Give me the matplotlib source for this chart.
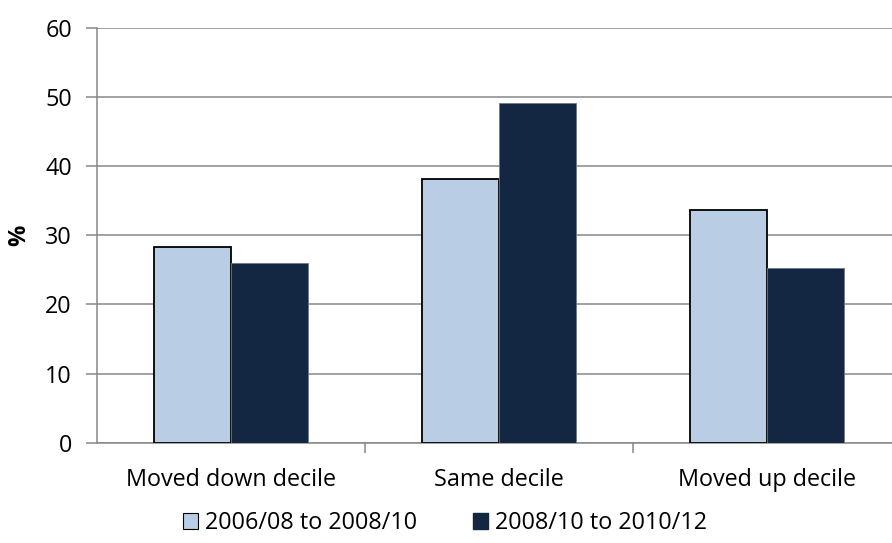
import numpy as np
import matplotlib.pyplot as plt
from matplotlib.patches import Patch

# data
categories = ["Moved down decile", "Same decile", "Moved up decile"]
series_names = ["2006/08 to 2008/10", "2008/10 to 2010/12"]
period1 = [28.3, 38.1, 33.6]
period2 = [26.0, 49.1, 25.2]

light = "#B9CDE5"
dark = "#132742"
grid_col = "#878787"

plt.rcParams["font.family"] = ["Open Sans", "DejaVu Sans"]

W, H = 892, 543
fig = plt.figure(figsize=(W / 100, H / 100), dpi=100)
ax = fig.add_axes([97 / W, 1 - 442.7 / H, (892 - 97) / W, (442.7 - 27.7) / H])

x = np.arange(len(categories))
bw = 0.287
ax.bar(x - bw / 2, period1, bw, color=light, edgecolor="black", linewidth=1.3, zorder=3)
ax.bar(x + bw / 2, period2, bw, color=dark, edgecolor="#6b7a8c", linewidth=0.6, zorder=3)

ax.set_ylim(0, 60)
ax.set_xlim(-0.5, (892 - 97) / 268 - 0.5)
ax.set_yticks(range(0, 61, 10))
ax.yaxis.grid(True, color=grid_col, linewidth=1.1, zorder=0)
ax.set_axisbelow(True)

for s in ["top", "right"]:
    ax.spines[s].set_visible(False)
ax.spines["left"].set_color(grid_col)
ax.spines["bottom"].set_color(grid_col)
ax.spines["left"].set_linewidth(1.1)
ax.spines["bottom"].set_linewidth(1.1)

fs = 16.8
ax.tick_params(axis="y", length=8, width=1.1, color=grid_col, labelsize=fs, pad=10)
ax.set_xticks(x)
ax.set_xticklabels(categories, fontsize=fs)
ax.tick_params(axis="x", length=0, pad=18)
ax.set_xticks([0.5, 1.5], minor=True)
ax.tick_params(axis="x", which="minor", length=7, width=1.1, color=grid_col)

ax.set_ylabel("%", fontsize=17, fontweight="bold", labelpad=10)

handles = [Patch(facecolor=light, edgecolor="black", linewidth=0.8),
           Patch(facecolor=dark, edgecolor=dark)]
fig.legend(handles, series_names, loc="center", bbox_to_anchor=(445 / W, 1 - 523 / H),
           ncol=2, frameon=False, fontsize=fs, handlelength=0.65, handleheight=0.65,
           handletextpad=0.3, columnspacing=2.4)

fig.savefig("out.png", dpi=100)
